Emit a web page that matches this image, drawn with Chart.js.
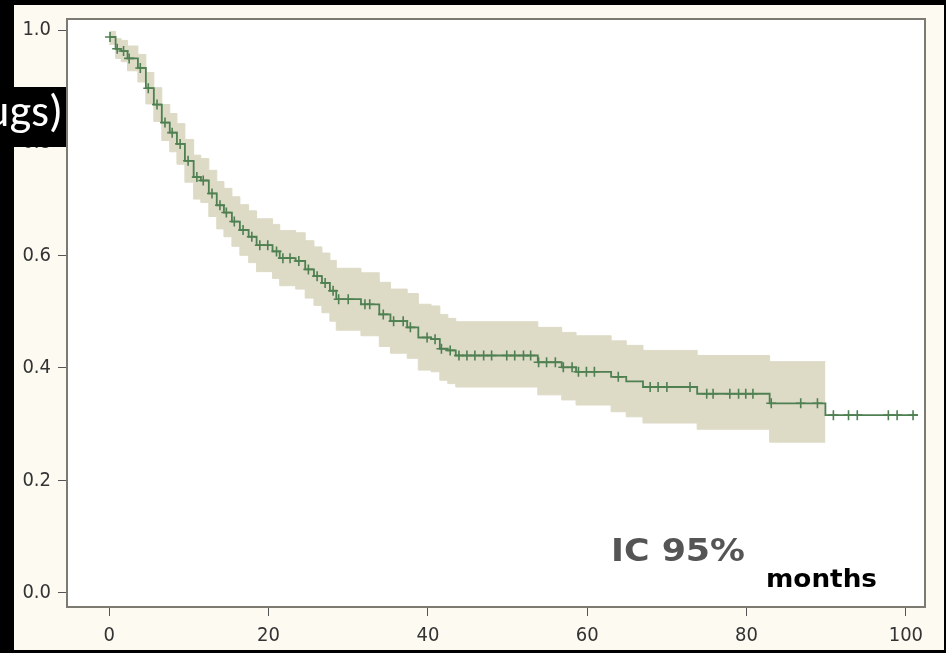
<!DOCTYPE html>
<html>
<head>
<meta charset="utf-8">
<title>Kaplan-Meier</title>
<script src="https://cdn.jsdelivr.net/npm/chart.js@4/dist/chart.umd.min.js"></script>
<style>
html, body { margin: 0; padding: 0; background: #000; }
canvas { display: block; }
</style>
</head>
<body>
<canvas id="km" width="946" height="653"></canvas>
<script>
// survival steps (months, survival after the drop)
const stepTimes = [0, 0.8, 1.5, 2.3, 3.6, 4.6, 5.6, 6.6, 7.6, 8.5, 9.5, 10.6, 11.5, 12.5, 13.5,
    14.4, 15.4, 16.4, 17.5, 18.5, 20.5, 21.4, 23.4, 24.6, 25.7, 26.7, 27.7, 28.5, 31.6, 33.9,
    35.3, 37.4, 38.8, 40.4, 41.5, 42.5, 43.5, 53.8, 56.8, 58.6, 63.0, 64.9, 67.0, 73.8, 82.9, 89.9];
const survival = [0.988, 0.967, 0.963, 0.950, 0.933, 0.897, 0.868, 0.836, 0.818, 0.798, 0.768, 0.739, 0.733, 0.710, 0.689,
    0.676, 0.660, 0.645, 0.633, 0.618, 0.607, 0.595, 0.590, 0.575, 0.563, 0.551, 0.537, 0.522, 0.513, 0.495,
    0.483, 0.472, 0.454, 0.451, 0.434, 0.431, 0.422, 0.410, 0.401, 0.393, 0.384, 0.376, 0.366, 0.354, 0.337, 0.316];
// 95% CI, one value per step (band stops at the last drop)
const upperCI = [0.998, 0.985, 0.982, 0.972, 0.957, 0.925, 0.898, 0.868, 0.852, 0.834, 0.806, 0.778, 0.772, 0.751, 0.731,
    0.719, 0.704, 0.690, 0.679, 0.665, 0.655, 0.644, 0.640, 0.626, 0.615, 0.604, 0.591, 0.577, 0.569, 0.552,
    0.540, 0.532, 0.513, 0.510, 0.495, 0.488, 0.482, 0.472, 0.463, 0.457, 0.448, 0.440, 0.431, 0.422, 0.411];
const lowerCI = [0.975, 0.950, 0.944, 0.928, 0.908, 0.869, 0.838, 0.804, 0.784, 0.762, 0.730, 0.700, 0.694, 0.669, 0.647,
    0.633, 0.616, 0.600, 0.587, 0.571, 0.559, 0.546, 0.540, 0.524, 0.511, 0.498, 0.483, 0.467, 0.457, 0.438,
    0.426, 0.417, 0.396, 0.393, 0.378, 0.372, 0.366, 0.352, 0.343, 0.334, 0.322, 0.313, 0.302, 0.291, 0.268];
const followUpEnd = 101.5;
// censored observations (months)
const censorTimes = [0.1, 1.0, 1.8, 2.5, 3.9, 4.9, 6.0, 7.0, 7.9, 8.9, 9.9, 11.0, 11.8, 12.9, 13.9,
    14.7, 15.7, 16.8, 17.9, 18.9, 19.9, 21.0, 21.8, 22.7, 23.8, 25.0, 26.1, 27.1, 28.1, 28.8,
    30.0, 32.1, 32.7, 34.4, 35.7, 36.9, 37.8, 39.9, 40.9, 41.7, 42.8, 43.9, 44.9, 45.9, 47.0,
    48.0, 49.9, 50.9, 52.0, 52.9, 53.9, 54.9, 56.0, 57.0, 58.1, 58.9, 59.9, 60.9, 63.9, 67.9,
    68.9, 70.0, 72.9, 75.0, 75.8, 77.9, 79.0, 79.9, 80.8, 83.1, 86.8, 88.9, 90.9, 92.8, 93.9,
    97.8, 98.9, 100.9];
const xTicks = [0, 20, 40, 60, 80, 100];
const yTicks = [0.0, 0.2, 0.4, 0.6, 0.8, 1.0];

const lineColor = '#4f8052';
const bandColor = '#dddac6';
const frameColor = '#7d7a72';
const tickFont = { family: '"Liberation Sans Narrow", "DejaVu Sans Condensed", sans-serif', size: 20 };

let toPoints = (xs, ys) => ys.map((y, i) => ({ x: xs[i], y: y }));
let survivalAt = t => {
    let s = survival[0];
    stepTimes.forEach((st, i) => { if (st <= t) s = survival[i]; });
    return s;
};

let curvePoints = toPoints(stepTimes, survival);
curvePoints.push({ x: followUpEnd, y: survival[survival.length - 1] });

let bandEnd = stepTimes[upperCI.length];
let upperPoints = toPoints(stepTimes, upperCI);
upperPoints.push({ x: bandEnd, y: upperCI[upperCI.length - 1] });
let lowerPoints = toPoints(stepTimes, lowerCI);
lowerPoints.push({ x: bandEnd, y: lowerCI[lowerCI.length - 1] });

let censorPoints = censorTimes.map(t => ({ x: t, y: survivalAt(t) }));

const framePlugin = {
    id: 'frame',
    beforeDraw(chart) {
        let ctx = chart.ctx, a = chart.chartArea;
        ctx.save();
        ctx.fillStyle = '#000';
        ctx.fillRect(0, 0, chart.width, chart.height);
        ctx.fillStyle = '#fdfaf2';
        ctx.fillRect(14, 5, 930, 645);
        ctx.fillStyle = '#fff';
        ctx.fillRect(a.left, a.top, a.right - a.left, a.bottom - a.top);
        ctx.restore();
    },
    afterDraw(chart) {
        let ctx = chart.ctx, a = chart.chartArea;
        ctx.save();
        ctx.strokeStyle = frameColor;
        ctx.lineWidth = 2;
        ctx.strokeRect(a.left, a.top, a.right - a.left, a.bottom - a.top);

        // leftover of a slide title covering the 0.8 label
        ctx.fillStyle = '#000';
        ctx.fillRect(0, 87, 66, 60);
        ctx.beginPath();
        ctx.rect(0, 87, 66, 60);
        ctx.clip();
        ctx.fillStyle = '#fff';
        ctx.font = '46px Carlito, Lato, sans-serif';
        ctx.textAlign = 'right';
        ctx.textBaseline = 'alphabetic';
        ctx.fillText('ugs)', 63, 126);
        ctx.restore();

        let stretchText = (text, font, color, x, y, width) => {
            ctx.save();
            ctx.font = font;
            ctx.fillStyle = color;
            ctx.textAlign = 'left';
            ctx.textBaseline = 'alphabetic';
            let sx = width / ctx.measureText(text).width;
            ctx.translate(x, y);
            ctx.scale(sx, 1);
            ctx.fillText(text, 0, 0);
            ctx.restore();
        };
        stretchText('IC 95%', 'bold 32px "DejaVu Sans", sans-serif', '#555555', 611, 561, 134);
        stretchText('months', 'bold 24px "DejaVu Sans", sans-serif', '#000000', 766, 587, 111);
    }
};

new Chart(document.getElementById('km'), {
    type: 'line',
    data: {
        datasets: [{
            label: 'Censored',
            data: censorPoints,
            showLine: false,
            pointStyle: 'cross',
            pointRadius: 5,
            pointBorderWidth: 1.6,
            pointBorderColor: lineColor,
            borderColor: lineColor
        }, {
            label: 'Survival',
            data: curvePoints,
            stepped: true,
            borderColor: lineColor,
            borderWidth: 1.8,
            pointRadius: 0,
            fill: false
        }, {
            label: 'IC 95% upper',
            data: upperPoints,
            stepped: true,
            borderColor: bandColor,
            borderWidth: 1,
            backgroundColor: bandColor,
            pointRadius: 0,
            fill: '+1'
        }, {
            label: 'IC 95% lower',
            data: lowerPoints,
            stepped: true,
            borderColor: bandColor,
            borderWidth: 1,
            pointRadius: 0,
            fill: false
        }]
    },
    options: {
        responsive: false,
        animation: false,
        devicePixelRatio: 1,
        layout: { padding: { top: 14, right: 21, left: 0, bottom: 0 } },
        plugins: {
            legend: { display: false },
            tooltip: { enabled: false }
        },
        scales: {
            x: {
                type: 'linear',
                min: -5.3,
                max: 102.4,
                afterBuildTicks: scale => { scale.ticks = xTicks.map(v => ({ value: v })); },
                afterFit: scale => { scale.height = 46; },
                grid: { drawOnChartArea: false, drawTicks: true, tickLength: 9, color: '#555' },
                border: { display: true, color: frameColor, width: 2 },
                ticks: { font: tickFont, color: '#333', padding: 8, maxRotation: 0, callback: v => String(v) }
            },
            y: {
                type: 'linear',
                min: -0.025,
                max: 1.02,
                afterBuildTicks: scale => { scale.ticks = yTicks.map(v => ({ value: v })); },
                afterFit: scale => { scale.width = 67; },
                grid: { drawOnChartArea: false, drawTicks: true, tickLength: 9, color: '#555' },
                border: { display: true, color: frameColor, width: 2 },
                ticks: { font: tickFont, color: '#333', padding: 7, callback: v => v.toFixed(1) }
            }
        }
    },
    plugins: [framePlugin]
});
</script>
</body>
</html>
